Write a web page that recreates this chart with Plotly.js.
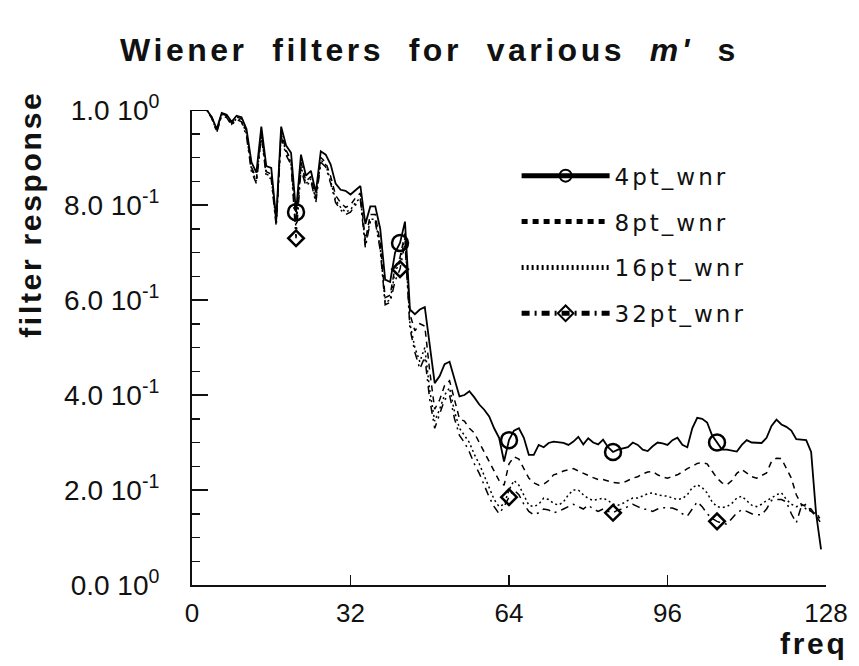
<!DOCTYPE html>
<html><head><meta charset="utf-8">
<script src="https://cdn.plot.ly/plotly-3.0.1.min.js"></script>
<style>
html,body{margin:0;padding:0;background:#fff;}
#chart{width:859px;height:666px;}
.gtitle{letter-spacing:3.5px;}
.legendtext{letter-spacing:3px;}
.annotation-text{letter-spacing:2.7px;}
</style></head><body><div id="chart"></div><script>
// frequency bins 0..127
const freq = [];
for (let k = 0; k < 128; k++) freq.push(k);

const markerIdx = [21, 42, 64, 85, 106];

const wnr4 = [1.0,1.0,1.0,1.0,0.985,0.96,0.994,0.99,0.975,0.988,
0.985,0.96,0.89,0.868,0.965,0.882,0.878,0.77,0.965,0.925,
0.91,0.785,0.906,0.862,0.872,0.826,0.913,0.906,0.885,0.845,
0.832,0.83,0.822,0.83,0.84,0.76,0.797,0.797,0.75,0.643,
0.638,0.70,0.72,0.765,0.58,0.57,0.58,0.585,0.50,0.425,
0.44,0.465,0.47,0.435,0.397,0.40,0.408,0.395,0.38,0.369,
0.355,0.33,0.31,0.26,0.305,0.325,0.33,0.31,0.274,0.274,
0.295,0.29,0.299,0.302,0.30,0.299,0.295,0.302,0.312,0.296,
0.309,0.30,0.296,0.306,0.29,0.28,0.285,0.287,0.29,0.30,
0.295,0.285,0.282,0.292,0.30,0.298,0.295,0.305,0.31,0.295,
0.29,0.33,0.352,0.35,0.342,0.315,0.30,0.285,0.285,0.283,
0.281,0.295,0.305,0.30,0.299,0.299,0.31,0.335,0.348,0.338,
0.333,0.325,0.307,0.306,0.305,0.28,0.15,0.075];

const wnr8 = [1.0,1.0,1.0,1.0,0.985,0.958,0.992,0.988,0.972,0.985,
0.982,0.955,0.88,0.855,0.955,0.87,0.865,0.765,0.955,0.915,
0.895,0.765,0.89,0.85,0.86,0.815,0.90,0.89,0.86,0.82,
0.805,0.795,0.80,0.815,0.825,0.725,0.78,0.78,0.72,0.605,
0.61,0.67,0.69,0.74,0.57,0.535,0.55,0.545,0.45,0.37,
0.39,0.42,0.43,0.39,0.35,0.345,0.33,0.32,0.30,0.28,
0.26,0.24,0.22,0.21,0.255,0.27,0.265,0.245,0.225,0.215,
0.21,0.212,0.22,0.232,0.235,0.24,0.243,0.245,0.24,0.235,
0.23,0.226,0.222,0.222,0.219,0.216,0.215,0.215,0.22,0.225,
0.228,0.234,0.238,0.239,0.232,0.227,0.225,0.228,0.232,0.238,
0.245,0.25,0.256,0.258,0.255,0.24,0.225,0.215,0.211,0.22,
0.235,0.243,0.235,0.228,0.225,0.23,0.236,0.26,0.267,0.266,
0.245,0.225,0.19,0.17,0.165,0.16,0.145,0.13];

const wnr16 = [1.0,1.0,1.0,1.0,0.983,0.955,0.99,0.986,0.97,0.982,
0.978,0.95,0.875,0.85,0.95,0.865,0.86,0.76,0.95,0.91,
0.89,0.75,0.88,0.845,0.855,0.81,0.895,0.885,0.85,0.81,
0.795,0.785,0.79,0.805,0.815,0.715,0.77,0.77,0.71,0.595,
0.60,0.66,0.68,0.73,0.55,0.50,0.47,0.50,0.41,0.345,
0.37,0.40,0.415,0.365,0.33,0.315,0.30,0.275,0.255,0.23,
0.205,0.18,0.165,0.17,0.20,0.22,0.21,0.19,0.168,0.165,
0.17,0.183,0.18,0.172,0.168,0.175,0.19,0.20,0.20,0.19,
0.182,0.178,0.18,0.183,0.178,0.17,0.168,0.172,0.178,0.183,
0.183,0.188,0.192,0.194,0.19,0.188,0.187,0.183,0.18,0.182,
0.19,0.205,0.211,0.205,0.194,0.175,0.165,0.163,0.165,0.172,
0.183,0.187,0.178,0.168,0.165,0.17,0.178,0.183,0.19,0.194,
0.18,0.17,0.165,0.168,0.16,0.155,0.15,0.14];

const wnr32 = [1.0,1.0,1.0,1.0,0.982,0.953,0.988,0.984,0.968,0.98,
0.975,0.945,0.87,0.845,0.945,0.86,0.855,0.755,0.945,0.905,
0.885,0.73,0.875,0.84,0.85,0.805,0.89,0.88,0.845,0.805,
0.79,0.78,0.785,0.80,0.81,0.71,0.765,0.765,0.705,0.59,
0.595,0.64,0.665,0.72,0.54,0.49,0.455,0.48,0.39,0.33,
0.36,0.39,0.40,0.35,0.315,0.30,0.28,0.255,0.235,0.21,
0.185,0.165,0.15,0.165,0.185,0.20,0.19,0.17,0.155,0.148,
0.152,0.16,0.158,0.152,0.155,0.16,0.165,0.17,0.165,0.16,
0.168,0.16,0.155,0.16,0.155,0.152,0.158,0.16,0.165,0.17,
0.165,0.16,0.159,0.155,0.16,0.163,0.162,0.162,0.158,0.15,
0.145,0.16,0.175,0.165,0.15,0.14,0.134,0.13,0.128,0.14,
0.152,0.158,0.155,0.15,0.148,0.148,0.16,0.178,0.18,0.18,
0.175,0.15,0.131,0.165,0.17,0.155,0.145,0.14];

const seriesNames = ['4pt_wnr', '8pt_wnr', '16pt_wnr', '32pt_wnr'];
const yTickVals = [0, 0.2, 0.4, 0.6, 0.8, 1.0];
const yTickText = ['0.0 10<sup>0</sup>', '2.0 10<sup>-1</sup>', '4.0 10<sup>-1</sup>',
                   '6.0 10<sup>-1</sup>', '8.0 10<sup>-1</sup>', '1.0 10<sup>0</sup>'];
const xTickVals = [0, 32, 64, 96, 128];

function markerSizes(size) {
  return freq.map(k => markerIdx.indexOf(k) >= 0 ? size : 0);
}

const traces = [
  {x: freq, y: wnr4, name: seriesNames[0], mode: 'lines+markers', legendgroup: 'a',
   line: {color: '#000', width: 1.8, dash: 'solid'},
   marker: {symbol: 'circle-open', size: markerSizes(16), color: '#000', opacity: 1, line: {width: 2.5, color: '#000'}}},
  {x: freq, y: wnr8, name: seriesNames[1], mode: 'lines', legendgroup: 'b',
   line: {color: '#000', width: 1.5, dash: '6px,5px'}},
  {x: freq, y: wnr16, name: seriesNames[2], mode: 'lines', legendgroup: 'c',
   line: {color: '#000', width: 1.5, dash: '2px,3px'}},
  {x: freq, y: wnr32, name: seriesNames[3], mode: 'lines+markers', legendgroup: 'd',
   line: {color: '#000', width: 1.5, dash: '8px,5px,2px,5px'},
   marker: {symbol: 'diamond-open', size: markerSizes(12), color: '#000', opacity: 1, line: {width: 2.5, color: '#000'}}}
];

const layout = {
  width: 859, height: 666,
  paper_bgcolor: '#fff', plot_bgcolor: '#fff',
  margin: {l: 192, r: 33, t: 110, b: 81},
  font: {family: 'Liberation Sans, Arial, sans-serif', color: '#111'},
  title: {text: 'Wiener\u00a0 filters\u00a0 for\u00a0 various\u00a0 <i>m\'</i>\u00a0 s',
          font: {family: 'Liberation Sans, Arial, sans-serif', size: 32, weight: 'bold', color: '#111'},
          x: 0.5, xanchor: 'center', y: 0.925, yanchor: 'middle'},
  xaxis: {range: [0, 128], showline: true, linecolor: '#111', linewidth: 2,
          ticks: 'inside', ticklen: 10, tickwidth: 1.5, tickcolor: '#111',
          tickmode: 'array', tickvals: xTickVals, showgrid: false, zeroline: false,
          tickfont: {size: 26, family: 'Liberation Sans, Arial, sans-serif'}, ticklabelstandoff: 4},
  yaxis: {range: [0, 1], showline: true, linecolor: '#111', linewidth: 2,
          ticks: 'inside', ticklen: 16, tickwidth: 1.5, tickcolor: '#111',
          tickmode: 'array', tickvals: yTickVals, ticktext: yTickText,
          minor: {tickmode: 'linear', tick0: 0, dtick: 0.05, ticks: 'inside', ticklen: 8, tickwidth: 1.5, tickcolor: '#111', showgrid: false},
          showgrid: false, zeroline: false,
          tickfont: {size: 28, family: 'Liberation Sans, Arial, sans-serif'}, ticklabelstandoff: 25},
  legend: {x: 0.512, y: 0.907, xanchor: 'left', yanchor: 'top', bgcolor: 'rgba(0,0,0,0)',
           font: {family: 'DejaVu Sans, sans-serif', size: 23, color: '#111'},
           itemsizing: 'constant', tracegroupgap: 13, itemwidth: 88},
  showlegend: true,
  annotations: [
    {text: 'filter response', xref: 'paper', yref: 'paper', x: -0.255, y: 0.78,
     xanchor: 'center', yanchor: 'middle', textangle: -90, showarrow: false,
     font: {family: 'Liberation Sans, Arial, sans-serif', size: 30, weight: 'bold', color: '#111'}},
    {text: 'freq', xref: 'paper', yref: 'paper', x: 0.98, y: -0.124,
     xanchor: 'center', yanchor: 'middle', showarrow: false,
     font: {family: 'Liberation Sans, Arial, sans-serif', size: 30, weight: 'bold', color: '#111'}}
  ]
};

Plotly.newPlot('chart', traces, layout, {displayModeBar: false, staticPlot: true});
</script></body></html>
